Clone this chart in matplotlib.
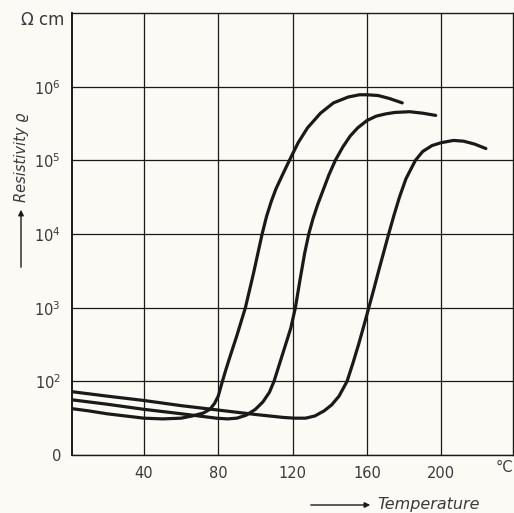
import numpy as np
import matplotlib
matplotlib.use('Agg')
import matplotlib.pyplot as plt

# curve data: temperature in degC, log10 resistivity (ohm cm)
temp_a = [1, 10, 20, 30, 40, 50, 60, 66, 72, 75.5, 78, 80, 82, 84, 86, 90, 94.6, 99, 103.6,
          106, 108.5, 111, 114.5, 118.3, 123, 128, 135, 142, 150, 156, 160, 166, 172, 179]
logr_a = [1.63, 1.60, 1.56, 1.53, 1.50, 1.49, 1.50, 1.53, 1.57, 1.62, 1.70, 1.80, 1.98, 2.15, 2.31, 2.62, 3.0, 3.47, 4.0,
          4.24, 4.44, 4.61, 4.80, 5.0, 5.24, 5.44, 5.64, 5.78, 5.86, 5.89, 5.89, 5.88, 5.84, 5.78]

temp_b = [1, 20, 40, 60, 79, 85, 90, 95, 100, 104, 107.5, 110, 113, 116, 119, 121.5, 124, 126.5, 128.7,
          131, 133.5, 136.5, 139.5, 143, 147, 151, 155, 160, 165, 170, 175, 183, 190, 197]
logr_b = [1.75, 1.69, 1.62, 1.56, 1.50, 1.49, 1.50, 1.54, 1.62, 1.72, 1.85, 2.0, 2.24, 2.48, 2.72, 3.0, 3.38, 3.74, 4.0,
          4.21, 4.4, 4.6, 4.8, 5.0, 5.18, 5.33, 5.44, 5.54, 5.60, 5.63, 5.65, 5.66, 5.64, 5.61]

temp_c = [1, 20, 40, 60, 80, 100, 115, 121, 127, 132, 137, 141, 145, 149.3, 152.5, 155.5, 158.3, 161, 163.7, 166.3,
          169, 171.7, 174.5, 177.5, 181, 186.1, 190, 195, 200, 206.6, 212, 218, 224]
logr_c = [1.86, 1.80, 1.74, 1.67, 1.61, 1.55, 1.51, 1.50, 1.50, 1.53, 1.60, 1.68, 1.80, 2.0, 2.25, 2.5, 2.75, 3.0, 3.25, 3.5,
          3.75, 4.0, 4.25, 4.5, 4.75, 5.0, 5.12, 5.2, 5.24, 5.27, 5.26, 5.22, 5.16]

x_ticks = [40, 80, 120, 160, 200]
x_labels = ['40', '80', '120', '160', '200']
y_ticks = [1e1, 1e2, 1e3, 1e4, 1e5, 1e6]
y_labels = ['0', '10$^2$', '10$^3$', '10$^4$', '10$^5$', '10$^6$']

bg = '#fbfaf4'
ink = '#1a1a1a'
txt = '#3a3a3a'

fig = plt.figure(figsize=(5.14, 5.13), dpi=100, facecolor=bg)
ax = fig.add_axes([72 / 514, 1 - 455 / 513, (513 - 72) / 514, (455 - 13) / 513])
ax.set_facecolor(bg)

for t, lr in [(temp_a, logr_a), (temp_b, logr_b), (temp_c, logr_c)]:
    ax.plot(t, 10 ** np.array(lr), color=ink, lw=2.3, solid_capstyle='round', solid_joinstyle='round')

ax.set_yscale('log')
ax.set_xlim(1.3, 238.6)
ax.set_ylim(1e1, 1e7)

ax.set_xticks(x_ticks)
ax.set_xticklabels(x_labels)
ax.set_yticks(y_ticks)
ax.set_yticklabels(y_labels)
ax.yaxis.set_minor_locator(matplotlib.ticker.NullLocator())
ax.tick_params(length=0, labelsize=10.5, labelcolor=txt, pad=8)

ax.grid(True, color=ink, lw=0.9)
for s in ax.spines.values():
    s.set_color(ink)
    s.set_linewidth(1.0)
ax.spines['left'].set_linewidth(1.4)

# unit labels
fig.text(513 / 514, 1 - 468 / 513, '°C', ha='right', va='center', fontsize=10.5, color=txt)
fig.text(43 / 514, 1 - 20 / 513, 'Ω cm', ha='center', va='center', fontsize=12, color=txt)

# axis titles with arrows
fig.text(22 / 514, 1 - 157 / 513, 'Resistivity ϱ', rotation=90, ha='center', va='center',
         fontsize=10.5, style='italic', color=txt)
fig.add_artist(matplotlib.patches.FancyArrowPatch((21 / 514, 1 - 270 / 513), (21 / 514, 1 - 207 / 513),
               transform=fig.transFigure, arrowstyle='-|>', mutation_scale=8, color=ink, lw=1.0))
fig.text(429 / 514, 1 - 505 / 513, 'Temperature', ha='center', va='center',
         fontsize=11.5, style='italic', color=txt)
fig.add_artist(matplotlib.patches.FancyArrowPatch((308 / 514, 1 - 505 / 513), (373 / 514, 1 - 505 / 513),
               transform=fig.transFigure, arrowstyle='-|>', mutation_scale=8, color=ink, lw=1.0))

fig.savefig('out.png', dpi=100, facecolor=bg)
